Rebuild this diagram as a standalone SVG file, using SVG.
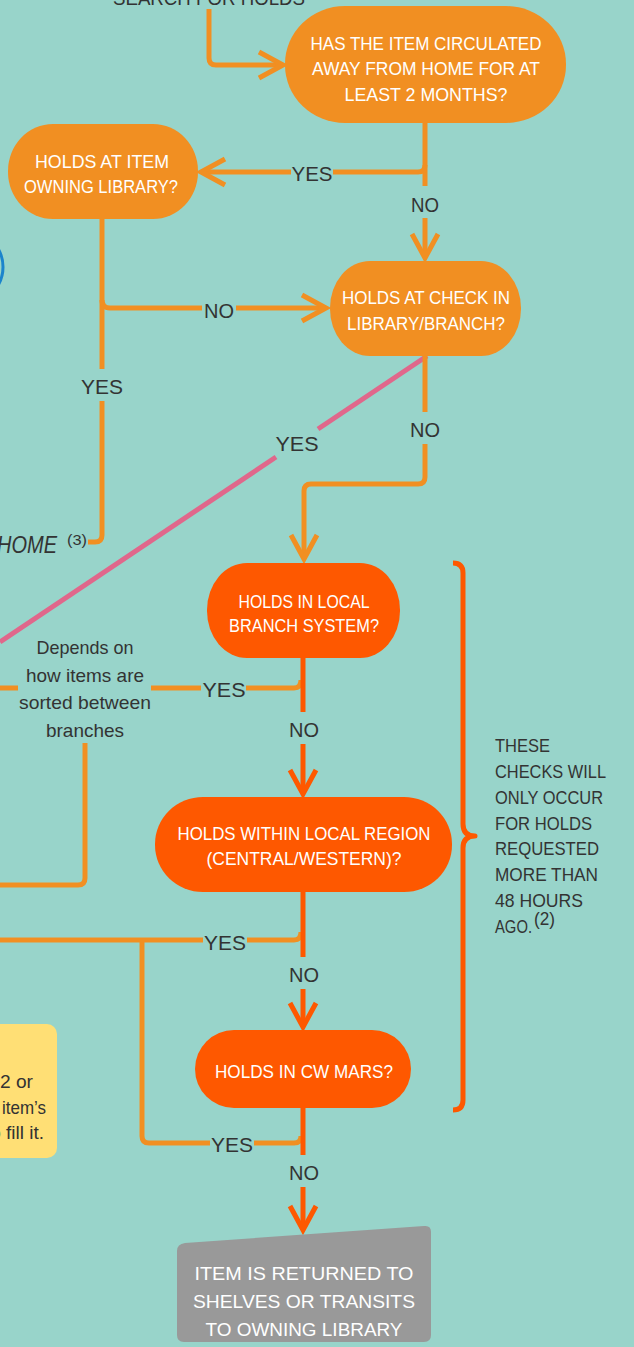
<svg xmlns="http://www.w3.org/2000/svg" width="634" height="1347" viewBox="0 0 634 1347">
<style>
.o{fill:none;stroke:#f18f22;stroke-width:5;stroke-linejoin:round}
.r{fill:none;stroke:#fe5800;stroke-width:5;stroke-linejoin:round}
.p{fill:none;stroke:#e0678b;stroke-width:5}
.nt{font-family:"Liberation Sans",Arial,sans-serif;font-size:19px;fill:#ffffff;text-anchor:middle}
.lb{font-family:"Liberation Sans",Arial,sans-serif;font-size:21px;fill:#333333;text-anchor:middle}
.dk{font-family:"Liberation Sans",Arial,sans-serif;font-size:19px;fill:#333333}
.hw{font-family:"Liberation Sans",Arial,sans-serif;font-size:19px;fill:#333333}
</style>
<defs>
<marker id="ao" markerUnits="userSpaceOnUse" markerWidth="40" markerHeight="40" viewBox="-30 -20 40 40" refX="0" refY="0" orient="auto">
<path d="M-24,-13 L0,0 L-24,13" fill="none" stroke="#f18f22" stroke-width="5"/>
</marker>
<marker id="ar" markerUnits="userSpaceOnUse" markerWidth="40" markerHeight="40" viewBox="-30 -20 40 40" refX="0" refY="0" orient="auto">
<path d="M-24,-13 L0,0 L-24,13" fill="none" stroke="#fe5800" stroke-width="5"/>
</marker>
</defs>
<rect width="634" height="1347" fill="#98d4ca"/>

<circle cx="-33" cy="267" r="36" fill="none" stroke="#1b84cc" stroke-width="3"/>
<text class="lb" x="209" y="5" textLength="192" lengthAdjust="spacingAndGlyphs">SEARCH FOR HOLDS</text>
<text x="57" y="553" font-family="Liberation Sans, Arial, sans-serif" font-size="24" font-style="italic" fill="#333" text-anchor="end" textLength="60" lengthAdjust="spacingAndGlyphs">HOME</text>
<text x="67" y="545" font-family="Liberation Sans, Arial, sans-serif" font-size="15" fill="#333" textLength="20" lengthAdjust="spacingAndGlyphs">(3)</text>

<g id="connectors">
<path class="o" d="M209,9 V58 Q209,65 216,65 H283" marker-end="url(#ao)"/>
<path class="o" d="M425,123 V186"/>
<path class="o" d="M425,218 V258" marker-end="url(#ao)"/>
<path class="o" d="M425,165 Q425,172 418,172 H333"/>
<path class="o" d="M291,172 H201" marker-end="url(#ao)"/>
<path class="o" d="M102,219 V369"/>
<path class="o" d="M102,401 V535 Q102,542 95,542 H88"/>
<path class="o" d="M102,300 Q102,308 110,308 H202"/>
<path class="o" d="M236,308 H326" marker-end="url(#ao)"/>
<path class="p" d="M427,356 L318,429"/>
<path class="p" d="M276,457 L0,642"/>
<path class="o" d="M425,355 V412"/>
<path class="o" d="M425,444 V477 Q425,484 418,484 H311 Q304,484 304,491 V559" marker-end="url(#ao)"/>
<path class="o" d="M301,680 Q301,688 294,688 H246"/>
<path class="o" d="M201,688 H151"/>
<path class="o" d="M18,688 H-5"/>
<path class="o" d="M85,743 V878 Q85,885 78,885 H-5"/>
<path class="r" d="M303,658 V712"/>
<path class="r" d="M303,744 V794" marker-end="url(#ar)"/>
<path class="o" d="M301,932 Q301,940 294,940 H247"/>
<path class="o" d="M203,940 H-5"/>
<path class="o" d="M142,940 V1136 Q142,1143 149,1143 H210"/>
<path class="o" d="M254,1143 H294 Q301,1143 301,1136"/>
<path class="r" d="M303,892 V957"/>
<path class="r" d="M303,989 V1027" marker-end="url(#ar)"/>
<path class="r" d="M303,1108 V1155"/>
<path class="r" d="M303,1187 V1230" marker-end="url(#ar)"/>
<text class="lb" x="312" y="181" textLength="41" lengthAdjust="spacingAndGlyphs">YES</text>
<text class="lb" x="425" y="212" textLength="28" lengthAdjust="spacingAndGlyphs">NO</text>
<text class="lb" x="219" y="318" textLength="30" lengthAdjust="spacingAndGlyphs">NO</text>
<text class="lb" x="102" y="394" textLength="42" lengthAdjust="spacingAndGlyphs">YES</text>
<text class="lb" x="297" y="451" textLength="43" lengthAdjust="spacingAndGlyphs">YES</text>
<text class="lb" x="425" y="437" textLength="30" lengthAdjust="spacingAndGlyphs">NO</text>
<text class="lb" x="224" y="697" textLength="43" lengthAdjust="spacingAndGlyphs">YES</text>
<text class="lb" x="304" y="737" textLength="30" lengthAdjust="spacingAndGlyphs">NO</text>
<text class="lb" x="225" y="950" textLength="42" lengthAdjust="spacingAndGlyphs">YES</text>
<text class="lb" x="304" y="982" textLength="30" lengthAdjust="spacingAndGlyphs">NO</text>
<text class="lb" x="232" y="1152" textLength="42" lengthAdjust="spacingAndGlyphs">YES</text>
<text class="lb" x="304" y="1180" textLength="30" lengthAdjust="spacingAndGlyphs">NO</text>
</g>

<g id="depends-note">
<text class="hw" x="85" y="654" text-anchor="middle" textLength="97" lengthAdjust="spacingAndGlyphs">Depends on</text>
<text class="hw" x="85" y="682" text-anchor="middle" textLength="118" lengthAdjust="spacingAndGlyphs">how items are</text>
<text class="hw" x="85" y="709" text-anchor="middle" textLength="132" lengthAdjust="spacingAndGlyphs">sorted between</text>
<text class="hw" x="85" y="737" text-anchor="middle" textLength="78" lengthAdjust="spacingAndGlyphs">branches</text>
</g>

<g id="node-circulated">
<rect x="285" y="6" width="281" height="117" rx="60" ry="58" fill="#f18f22"/>
<text class="nt" x="426" y="50" textLength="231" lengthAdjust="spacingAndGlyphs">HAS THE ITEM CIRCULATED</text>
<text class="nt" x="426" y="75" textLength="228" lengthAdjust="spacingAndGlyphs">AWAY FROM HOME FOR AT</text>
<text class="nt" x="426" y="101" textLength="163" lengthAdjust="spacingAndGlyphs">LEAST 2 MONTHS?</text>
</g>

<g id="node-owning">
<rect x="8" y="124" width="190" height="95" rx="45" ry="47" fill="#f18f22"/>
<text class="nt" x="102" y="168" textLength="134" lengthAdjust="spacingAndGlyphs">HOLDS AT ITEM</text>
<text class="nt" x="101" y="193" textLength="154" lengthAdjust="spacingAndGlyphs">OWNING LIBRARY?</text>
</g>

<g id="node-checkin">
<rect x="330" y="261" width="191" height="95" rx="40" ry="47" fill="#f18f22"/>
<text class="nt" x="426" y="304" textLength="168" lengthAdjust="spacingAndGlyphs">HOLDS AT CHECK IN</text>
<text class="nt" x="426" y="330" textLength="158" lengthAdjust="spacingAndGlyphs">LIBRARY/BRANCH?</text>
</g>

<g id="node-local-branch">
<rect x="207" y="563" width="193" height="95" rx="40" ry="47" fill="#fe5800"/>
<text class="nt" x="304" y="608" font-size="18" textLength="131" lengthAdjust="spacingAndGlyphs">HOLDS IN LOCAL</text>
<text class="nt" x="304" y="632" font-size="18" textLength="150" lengthAdjust="spacingAndGlyphs">BRANCH SYSTEM?</text>
</g>

<g id="node-region">
<rect x="155" y="797" width="297" height="95" rx="48" ry="47" fill="#fe5800"/>
<text class="nt" x="304" y="839.5" font-size="18" textLength="253" lengthAdjust="spacingAndGlyphs">HOLDS WITHIN LOCAL REGION</text>
<text class="nt" x="304" y="864.5" font-size="18" textLength="195" lengthAdjust="spacingAndGlyphs">(CENTRAL/WESTERN)?</text>
</g>

<g id="node-cwmars">
<rect x="195" y="1030" width="216" height="78" rx="39" ry="39" fill="#fe5800"/>
<text class="nt" x="304" y="1077.5" font-size="18" textLength="178" lengthAdjust="spacingAndGlyphs">HOLDS IN CW MARS?</text>
</g>

<g id="node-returned">
<path d="M185,1243 L424,1226 Q431,1225 431,1232 V1335 Q431,1342 424,1342 H184 Q177,1342 177,1335 V1251 Q177,1244 185,1243 Z" fill="#999999"/>
<text class="nt" x="304" y="1279.5" font-size="21" textLength="219" lengthAdjust="spacingAndGlyphs">ITEM IS RETURNED TO</text>
<text class="nt" x="304" y="1307.5" font-size="21" textLength="222" lengthAdjust="spacingAndGlyphs">SHELVES OR TRANSITS</text>
<text class="nt" x="304" y="1335.5" font-size="21" textLength="197" lengthAdjust="spacingAndGlyphs">TO OWNING LIBRARY</text>
</g>

<g id="brace-note">
<path class="r" stroke-width="4" d="M453,563 Q463,563 463,573 V824 Q463,836 475,836 Q463,836 463,848 V1100 Q463,1110 453,1110"/>
<text class="dk" x="495" y="751.5" textLength="55" lengthAdjust="spacingAndGlyphs">THESE</text>
<text class="dk" x="495" y="777.5" textLength="111" lengthAdjust="spacingAndGlyphs">CHECKS WILL</text>
<text class="dk" x="495" y="803.5" textLength="108" lengthAdjust="spacingAndGlyphs">ONLY OCCUR</text>
<text class="dk" x="495" y="829.5" textLength="97" lengthAdjust="spacingAndGlyphs">FOR HOLDS</text>
<text class="dk" x="495" y="854.5" textLength="104" lengthAdjust="spacingAndGlyphs">REQUESTED</text>
<text class="dk" x="495" y="880.5" textLength="103" lengthAdjust="spacingAndGlyphs">MORE THAN</text>
<text class="dk" x="495" y="906.5" textLength="88" lengthAdjust="spacingAndGlyphs">48 HOURS</text>
<text class="dk" x="495" y="932.5" textLength="37" lengthAdjust="spacingAndGlyphs">AGO.</text>
<text class="dk" x="534" y="925" font-size="12" textLength="21" lengthAdjust="spacingAndGlyphs">(2)</text>
</g>

<g id="yellow-note">
<rect x="-20" y="1024" width="77" height="134" rx="10" ry="10" fill="#ffdf75"/>
<text class="hw" x="33" y="1088" text-anchor="end" textLength="33" lengthAdjust="spacingAndGlyphs">2 or</text>
<text class="hw" x="46" y="1114" text-anchor="end" textLength="44" lengthAdjust="spacingAndGlyphs">item’s</text>
<text class="hw" x="44" y="1139" text-anchor="end">to fill it.</text>
</g>
</svg>
